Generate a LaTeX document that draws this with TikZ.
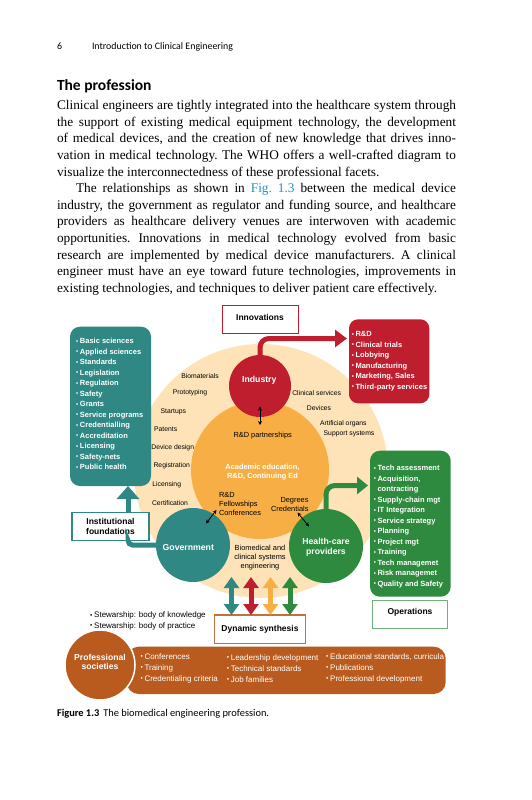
\documentclass[tikz,border=0pt]{standalone}
\usepackage{fontspec}
\usepackage{graphicx}
\setmainfont{Liberation Serif}
\newfontfamily\dgfont{Liberation Sans}
\newfontfamily\pgsans{Carlito}
\usetikzlibrary{arrows.meta}
\definecolor{cteal}{HTML}{2F8884}
\definecolor{ccrim}{HTML}{BE1E2D}
\definecolor{corange}{HTML}{F7AF45}
\definecolor{cpeach}{HTML}{FDE3B7}
\definecolor{cgreen}{HTML}{2D8A3E}
\definecolor{cbrown}{HTML}{B95B1E}
\definecolor{copsline}{HTML}{6CB27A}
\definecolor{cdsline}{HTML}{C4703D}
\definecolor{clink}{HTML}{2A8DC5}
\newcommand\bul{\raisebox{0.05em}{\scalebox{0.8}{•}}\hspace{0.22em}}
\begin{document}
\begin{tikzpicture}[x=1pt,y=-1pt,
  every node/.style={inner sep=0pt,outer sep=0pt},
  bodytext/.style={anchor=north west,text width=399pt,align=justify,
    font=\fontsize{13.3}{16.64}\selectfont},
  circ/.style={circle,draw=none,fill=#1},
  lbox/.style={rectangle,rounded corners=10pt,fill=#1},
  tbox/.style={rectangle,draw=#1,line width=1.3pt,fill=white,
    font=\dgfont\bfseries\fontsize{8.5}{9.8}\selectfont,align=center},
  outerlbl/.style={font=\dgfont\fontsize{6.8}{8}\selectfont},
  innerlbl/.style={font=\dgfont\fontsize{7.4}{9}\selectfont},
  circlbl/.style={font=\dgfont\bfseries\fontsize{8.7}{10}\selectfont,text=white,align=center},
  listtxt/.style={font=\dgfont\bfseries\fontsize{7.5}{10.5}\selectfont,text=white,align=left,anchor=west},
  bartxt/.style={font=\dgfont\fontsize{8}{11}\selectfont,text=white,align=left,anchor=west},
  fatline/.style={line width=5pt,draw=#1},
  fatdbl/.style={line width=5pt,draw=#1,{Triangle[length=11pt,width=15pt]}-{Triangle[length=11pt,width=15pt]}},
  thindbl/.style={line width=0.8pt,{Stealth[length=4pt,width=4pt]}-{Stealth[length=4pt,width=4pt]}}
]
\useasboundingbox[fill=white] (0,0) rectangle (531,800);

% ---------- page text ----------
\node[anchor=base west,font=\pgsans\fontsize{9.9}{12}\selectfont] (pnum) at (57,49) {6};
\node[anchor=base west,font=\pgsans\fontsize{9.9}{12}\selectfont] (rhead) at (92,49) {Introduction to Clinical Engineering};
\node[anchor=base west,font=\pgsans\bfseries\fontsize{15.5}{18}\selectfont] (sect) at (57,90) {The profession};
\node[bodytext] (body) at (57,97.85) {\frenchspacing\hyphenpenalty=10000 \exhyphenpenalty=10000 \tolerance=9999 \parskip=0pt \parindent=0pt \strut
Clinical engineers are tightly integrated into the healthcare system through\linebreak
the support of existing medical equipment technology, the development\linebreak
of medical devices, and the creation of new knowledge that drives inno-\linebreak
vation in medical technology. The WHO offers a well-crafted diagram to\linebreak
visualize the interconnectedness of these professional facets.\par
\hspace*{19pt}The relationships as shown in \textcolor{clink}{Fig.~1.3} between the medical device\linebreak
industry, the government as regulator and funding source, and healthcare\linebreak
providers as healthcare delivery venues are interwoven with academic\linebreak
opportunities. Innovations in medical technology evolved from basic\linebreak
research are implemented by medical device manufacturers. A clinical\linebreak
engineer must have an eye toward future technologies, improvements in\linebreak
existing technologies, and techniques to deliver patient care effectively.};
\node[anchor=base west,font=\pgsans\fontsize{10.4}{12}\selectfont] (caption) at (57,716) {\textbf{Figure 1.3}\hspace{4pt}The biomedical engineering profession.};

% ---------- background circles ----------
\node[circ=cpeach,minimum size=254pt] (peach) at (261,471) {};
\node[circ=corange,minimum size=138pt] (acad) at (260,470) {};

% ---------- list boxes ----------
\node[lbox=cteal,minimum width=81pt,minimum height=159.3pt] (tb) at (110.5,406.35) {};
\node[lbox=ccrim,rounded corners=9pt,minimum width=80.3pt,minimum height=84pt] (rb) at (389.15,361.3) {};
\node[lbox=cgreen,minimum width=80.7pt,minimum height=146pt] (gb) at (410.35,523.7) {};

\node[listtxt] (tbt) at (76.2,404) {\bul Basic sciences\\\bul Applied sciences\\\bul Standards\\\bul Legislation\\\bul Regulation\\\bul Safety\\\bul Grants\\\bul Service programs\\\bul Credentialling\\\bul Accreditation\\\bul Licensing\\\bul Safety-nets\\\bul Public health};
\node[listtxt] (rbt) at (351.8,361) {\bul R\&D\\\bul Clinical trials\\\bul Lobbying\\\bul Manufacturing\\\bul Marketing, Sales\\\bul Third-party services};
\node[listtxt] (gbt) at (373.8,526.5) {\bul Tech assessment\\\bul Acquisition,\\\phantom{\bul}contracting\\\bul Supply-chain mgt\\\bul IT Integration\\\bul Service strategy\\\bul Planning\\\bul Project mgt\\\bul Training\\\bul Tech managemet\\\bul Risk managemet\\\bul Quality and Safety};

% ---------- framed labels ----------
\node[tbox=ccrim,line width=1pt,minimum width=76pt,minimum height=28pt,text depth=4pt] (inno) at (260,319) {Innovations};
\node[tbox=cteal,minimum width=77pt,minimum height=28pt] (inst) at (110.5,526.6) {Institutional\\foundations};
\node[tbox=cdsline,minimum width=91.4pt,minimum height=28.3pt] (ds) at (260,629.15) {Dynamic synthesis};
\node[tbox=copsline,minimum width=74.6pt,minimum height=27.6pt,text depth=7pt] (ops) at (410,614.5) {Operations};

% ---------- professional societies ----------
\node[lbox=cbrown,rounded corners=12pt,minimum width=319pt,minimum height=47.3pt] (bar) at (286.2,670.35) {};
\node[circ=cbrown,draw=white,line width=1.5pt,minimum size=70pt] (prof) at (100,665) {};
\node[circlbl,font=\dgfont\bfseries\fontsize{8.6}{9.4}\selectfont] (proft) at (100,662) {Professional\\societies};
\node[bartxt] (bc1) at (140.5,668.3) {\bul Conferences\\\bul Training\\\bul Credentialing criteria};
\node[bartxt] (bc2) at (226.8,668.3) {\bul Leadership development\\\bul Technical standards\\\bul Job families};
\node[bartxt] (bc3) at (326.2,668.3) {\bul Educational standards, curricula\\\bul Publications\\\bul Professional development};
\node[anchor=west,align=left,font=\dgfont\fontsize{8}{10.7}\selectfont] (stew) at (90.2,620.7) {\bul Stewarship: body of knowledge\\\bul Stewarship: body of practice};

% ---------- connectors behind actor circles ----------
\draw[fatline=cteal,rounded corners=4.5pt] ([xshift=17.5pt]inst.south) |- (193,545) coordinate (govjoin);

% ---------- actor circles ----------
\node[circ=ccrim,minimum size=62pt] (ind) at (260,386) {};
\node[circ=cteal,minimum size=74pt] (gov) at (193,545) {};
\node[circ=cgreen,minimum size=74pt] (hc) at (326,546) {};
\node[circlbl] (indt) at (259.3,380) {Industry};
\node[circlbl] (govt) at (188.3,547.3) {Government};
\node[circlbl] (hct) at (326,547.3) {Health-care\\providers};
\node[circlbl,font=\dgfont\bfseries\fontsize{7.4}{9.4}\selectfont] (acadt) at (262.5,472) {Academic education,\\R\&D, Continuing Ed};

% ---------- labels in the rings ----------
\node[outerlbl] (l1) at (200,375.7) {Biomaterials};
\node[outerlbl] (l2) at (190,392.7) {Prototyping};
\node[outerlbl] (l3) at (173.3,411.7) {Startups};
\node[outerlbl] (l4) at (165.7,429.3) {Patents};
\node[outerlbl] (l5) at (172.7,447.3) {Device design};
\node[outerlbl] (l6) at (171.7,465.7) {Registration};
\node[outerlbl] (l7) at (166.7,484.7) {Licensing};
\node[outerlbl] (l8) at (170,502.7) {Certification};
\node[outerlbl] (r1) at (316.7,392.7) {Clinical services};
\node[outerlbl] (r2) at (319,407.7) {Devices};
\node[outerlbl] (r3) at (343.3,423.7) {Artificial organs};
\node[outerlbl] (r4) at (349,433.7) {Support systems};
\node[innerlbl] (rdp) at (262.7,435.7) {R\&D partnerships};
\node[innerlbl,anchor=west,align=left] (rdf) at (219,504.3) {R\&D\\Fellowships\\Conferences};
\node[innerlbl,anchor=east,align=right] (deg) at (308.5,504) {Degrees\\Credentials};
\node[innerlbl,align=center] (bme) at (260,557.5) {Biomedical and\\clinical systems\\engineering};

% ---------- connectors ----------
\coordinate (rdtip) at (347,338.5);
\coordinate (gtip) at (368,485.5);
\draw[fatline=ccrim,rounded corners=9pt,-{Triangle[length=12pt,width=17pt]}] (ind.north) |- (rdtip);
\draw[fatline=cgreen,rounded corners=9pt,-{Triangle[length=11pt,width=17pt]}] (hc.north) |- (gtip);
\draw[fatline=cteal,-{Triangle[length=13pt,width=22pt]}] ([xshift=17.5pt]inst.north) -- ([xshift=17.5pt]inst.north |- tb.south);

\coordinate (s1) at (231.5,577);
\coordinate (s2) at (251,577);
\coordinate (s3) at (270.5,577);
\coordinate (s4) at (290,577);
\draw[fatdbl=cteal] (s1) -- (s1 |- ds.north);
\draw[fatdbl=ccrim] (s2) -- (s2 |- ds.north);
\draw[fatdbl=corange] (s3) -- (s3 |- ds.north);
\draw[fatdbl=cgreen] (s4) -- (s4 |- ds.north);

\coordinate (ia) at (260,406.5);
\coordinate (ib) at (260,425);
\coordinate (ga) at (206,523.5);
\coordinate (gbb) at (216.5,510);
\coordinate (ha) at (297.5,512.5);
\coordinate (hb) at (309,526.5);
\draw[thindbl] (ia) -- (ib);
\draw[thindbl] (ga) -- (gbb);
\draw[thindbl] (ha) -- (hb);
\end{tikzpicture}
\end{document}
